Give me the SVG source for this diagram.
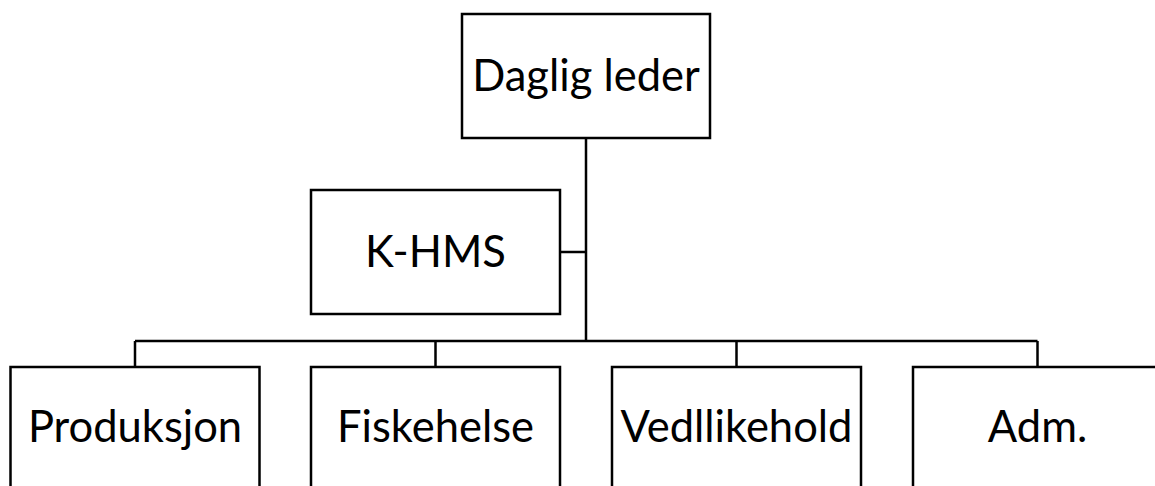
<svg xmlns="http://www.w3.org/2000/svg" width="1155" height="486" viewBox="0 0 1155 486">
<style>
.box{fill:#fff;stroke:#000;stroke-width:2.5}
.ln{fill:none;stroke:#000;stroke-width:2.5}
.t{font-family:Lato,"Open Sans","Liberation Sans",sans-serif;font-size:43.5px;fill:#000;text-anchor:middle}
</style>
<rect width="1155" height="486" fill="#fff"/>
<g id="connectors">
<path class="ln" d="M586,138 V341 M560,252 H586 M135,341 H1037.5 M135,341 V367 M435.5,341 V367 M736.5,341 V367 M1037.5,341 V367"/>
</g>
<g id="daglig"><rect class="box" x="462" y="14" width="248" height="124"/><text class="t" x="586" y="91">Daglig leder</text></g>
<g id="khms"><rect class="box" x="311" y="190" width="249" height="124"/><text class="t" x="435.5" y="267">K-HMS</text></g>
<g id="produksjon"><rect class="box" x="10.5" y="367" width="249" height="140"/><text class="t" x="135" y="442">Produksjon</text></g>
<g id="fiskehelse"><rect class="box" x="311" y="367" width="249" height="140"/><text class="t" x="435.5" y="442">Fiskehelse</text></g>
<g id="vedllikehold"><rect class="box" x="612" y="367" width="249" height="140"/><text class="t" x="736.5" y="442">Vedllikehold</text></g>
<g id="adm"><rect class="box" x="913" y="367" width="249" height="140"/><text class="t" x="1037.5" y="442">Adm.</text></g>
</svg>
